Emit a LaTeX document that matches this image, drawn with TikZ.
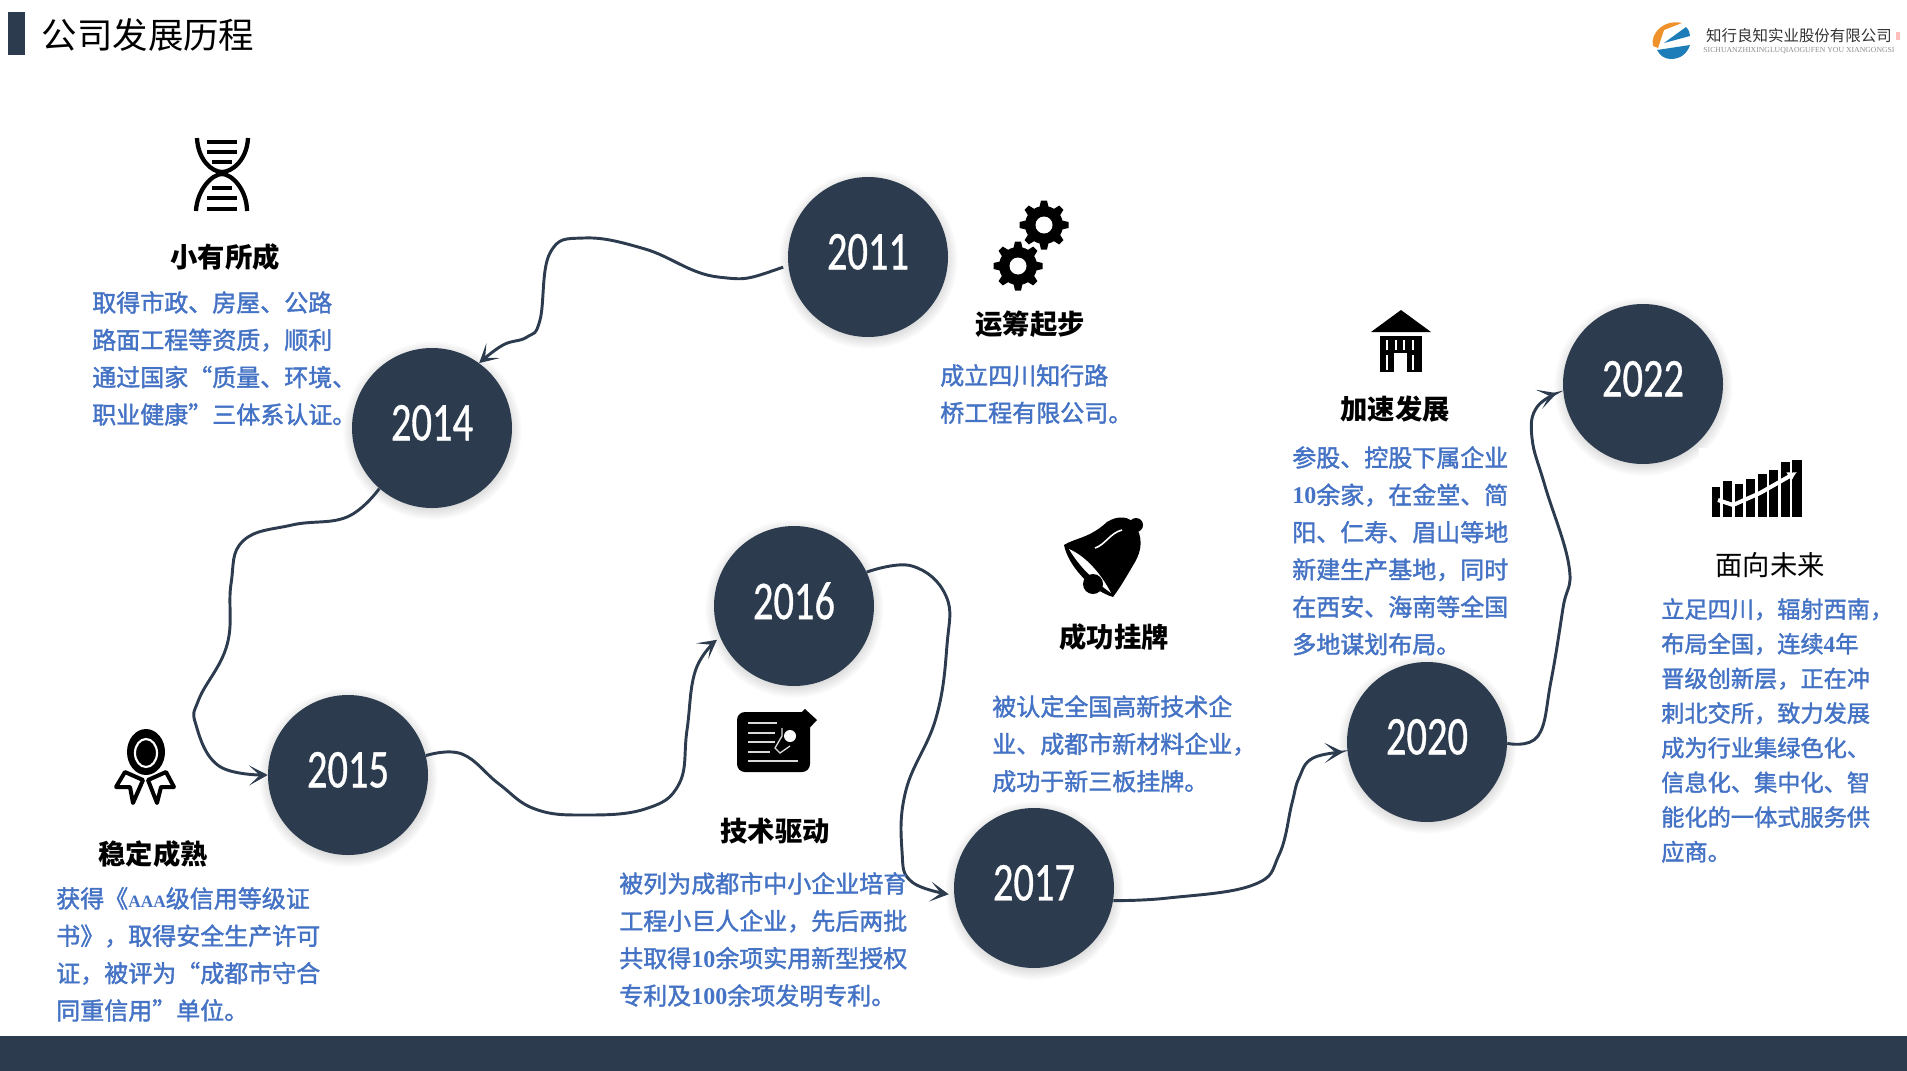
\documentclass[tikz,border=0pt]{standalone}
\usepackage{fontspec}
\usetikzlibrary{arrows.meta,shadows,fadings}
\setmainfont{Noto Sans CJK SC}
\newfontfamily\yearfont[FakeStretch=0.74,FakeBold=0.6]{Carlito}
\newfontfamily\latinlogo{Liberation Serif}
\newfontfamily\bodyfont[FakeBold=1.6]{Noto Sans CJK SC}
\definecolor{slatebar}{HTML}{2C3C4E}
\definecolor{bodyblue}{HTML}{4472C4}
\definecolor{logoorange}{HTML}{F0922B}
\definecolor{logoblue}{HTML}{1C7DB8}
\newcommand{\lat}[1]{{\latinlogo\bfseries #1}}

\begin{document}
\begin{tikzpicture}[
  x=0.75pt, y=-0.75pt,
  yearnode/.style={circle, fill=slatebar, text=white, inner sep=0pt, minimum size=120pt,
                   text depth=8pt, font=\yearfont\fontsize{41}{41}\selectfont,
                   circular drop shadow={shadow xshift=0pt, shadow yshift=-1.5pt, shadow scale=1.12, opacity=0.3}},
  headnode/.style={font=\bfseries\fontsize{20.5}{24}\selectfont, text=black, inner sep=0pt},
  descnode/.style={font=\bodyfont\fontsize{18}{28}\selectfont, text=bodyblue, align=left,
                   anchor=north west, inner sep=0pt},
  link/.style={draw=slatebar, line width=2.2pt, -{Stealth[length=14pt,width=15pt,inset=8pt]}},
  gearpic/.pic={
    \fill[black] (0,0) circle (19);
    \foreach \a in {0,45,...,315}
      \fill[black, rotate=\a] (-4.5,-18) -- (-3,-24.5) -- (3,-24.5) -- (4.5,-18) -- cycle;
    \fill[white] (0,0) circle (8.5);
  },
]
\useasboundingbox (0,0) rectangle (1907,1071);

% ---- title and footer ----
\fill[slatebar] (8,12) rectangle (25,55);
\node[font=\fontsize{26.6}{30}\selectfont, inner sep=0pt] (title) at (148,35) {公司发展历程};
\fill[slatebar] (0,1036) rectangle (1907,1071);

% ---- logo ----
\fill[logoorange] (1653,46) .. controls (1650,33) and (1664,19) .. (1682,23) -- (1664,30) -- (1658,48) -- cycle;
\fill[logoblue] (1664,43) -- (1686,27) .. controls (1689,30) and (1690,33) .. (1690,36) -- cycle;
\fill[logoblue] (1657,50) -- (1690,45) .. controls (1687,54) and (1680,59) .. (1671,59) .. controls (1665,59) and (1660,56) .. (1657,50) -- cycle;
\node[font=\fontsize{11.6}{12}\selectfont, text=black!80, inner sep=0pt] (logoname) at (1799,36) {知行良知实业股份有限公司};
\node[font=\latinlogo\fontsize{5.8}{6}\selectfont, text=black!45, inner sep=0pt] (logosub) at (1799,51) {SICHUANZHIXINGLUQIAOGUFEN YOU XIANGONGSI};
\fill[red!25] (1896,32) rectangle (1900,40);

% ---- year circles ----
\node[yearnode] (y2011) at (868,257) {2011};
\node[yearnode] (y2014) at (432,428) {2014};
\node[yearnode] (y2015) at (348,775) {2015};
\node[yearnode] (y2016) at (794,606) {2016};
\node[yearnode] (y2017) at (1034,888) {2017};
\node[yearnode] (y2020) at (1427,742) {2020};
\node[yearnode] (y2022) at (1643,384) {2022};

% ---- connectors ----
\draw[link, shorten <=4pt] plot[smooth, tension=0.7] coordinates {(y2011.186) (718,277) (645,249) (584,238) (550,253) (540,320) (527,337) (503,345) (y2014.54)};
\draw[link] plot[smooth, tension=0.7] coordinates {(y2014.229) (347,517) (292,525) (243,541) (231,584) (227,645) (199,699) (196,725) (219,766) (y2015.west)};
\draw[link, shorten >=3pt] plot[smooth, tension=0.7] coordinates {(y2015.14) (462,754) (499,784) (535,809) (584,815) (645,809) (679,784) (687,730) (696,669) (y2016.203)};
\draw[link, shorten >=4pt] plot[smooth, tension=0.7] coordinates {(y2016.25) (912,566) (946,596) (947,645) (936,718) (906,790) (902,851) (912,882) (y2017.185)};
\draw[link, shorten >=3pt] plot[smooth, tension=0.7] coordinates {(y2017.-9) (1168,898) (1253,885) (1279,855) (1292,803) (1299,778) (1313,758) (y2020.187)};
\draw[link, shorten >=5pt] plot[smooth, tension=0.7] coordinates {(y2020.-1) (1538,736) (1551,681) (1563,608) (1569,566) (1545,486) (1532,438) (1537,407) (y2022.185)};

% ---- headings ----
\node[headnode] (hachieve) at (225,257) {小有所成};
\node[headnode] (hplan) at (1030,324) {运筹起步};
\node[headnode] (hstable) at (153,854) {稳定成熟};
\node[headnode] (htech) at (775,831) {技术驱动};
\node[headnode] (hlist) at (1114,637) {成功挂牌};
\node[headnode] (hspeed) at (1395,409) {加速发展};
\node[headnode, font=\fontsize{20.5}{24}\selectfont] (hfuture) at (1770,565) {面向未来};

% ---- descriptions ----
\node[descnode] (dachieve) at (92,291) {取得市政、房屋、公路\\路面工程等资质，顺利\\通过国家“质量、环境、\\职业健康”三体系认证。};
\node[descnode] (dplan) at (940,364) {成立四川知行路\\桥工程有限公司。};
\node[descnode] (dstable) at (56,887) {获得《{\latinlogo\bfseries\fontsize{13}{28}\selectfont AAA}级信用等级证\\书》，取得安全生产许可\\证，被评为“成都市守合\\同重信用”单位。};
\node[descnode] (dtech) at (619,872) {被列为成都市中小企业培育\\工程小巨人企业，先后两批\\共取得\lat{10}余项实用新型授权\\专利及\lat{100}余项发明专利。};
\node[descnode] (dlist) at (992,695) {被认定全国高新技术企\\业、成都市新材料企业，\\成功于新三板挂牌。};
\node[descnode] (dspeed) at (1292,446) {参股、控股下属企业\\\lat{10}余家，在金堂、简\\阳、仁寿、眉山等地\\新建生产基地，同时\\在西安、海南等全国\\多地谋划布局。};
\node[descnode, font=\bodyfont\fontsize{17.4}{26}\selectfont] (dfuture) at (1661,598) {立足四川，辐射西南，\\布局全国，连续\lat{4}年\\晋级创新层，正在冲\\刺北交所，致力发展\\成为行业集绿色化、\\信息化、集中化、智\\能化的一体式服务供\\应商。};

% ---- dna icon ----
\draw[black, line width=3.2pt] (197,138) .. controls (198,160) and (212,172) .. (222,172) .. controls (232,172) and (247,160) .. (248,138);
\draw[black, line width=3.2pt] (196,211) .. controls (197,190) and (212,174) .. (222,174) .. controls (232,174) and (247,190) .. (247,211);
\foreach \ya/\xa/\xb in {142/207/237, 152/207/237, 162/212/232, 188/212/232, 198/207/237, 209/207/237}
  \draw[black, line width=3pt] (\xa,\ya) -- (\xb,\ya);

% ---- gears ----
\pic at (1044,225) {gearpic};
\pic at (1018,266) {gearpic};

% ---- bell ----
\fill[black] (1136,525) circle (7);
\fill[black] (1064,545) .. controls (1075,538) and (1090,538) .. (1107,522) .. controls (1118,515) and (1130,516) .. (1135,525) .. controls (1143,537) and (1142,550) .. (1135,562) .. controls (1129,572) and (1122,585) .. (1113,597) .. controls (1090,590) and (1068,565) .. cycle;
\fill[white] (1069,549) .. controls (1085,556) and (1100,572) .. (1111,593) .. controls (1097,583) and (1080,568) .. cycle;
\fill[black] (1093,584) circle (10);
\draw[white, line width=1.2pt] (1095,548) .. controls (1105,545) and (1110,533) .. (1122,530);

% ---- news icon ----
\fill[black, rounded corners=6pt] (737,712) rectangle (810,772);
\foreach \ya/\xb in {723/777, 733/775, 742/775, 752/770, 761/798}
  \draw[white!85!black, line width=1.5pt] (748,\ya) -- (\xb,\ya);
\fill[black] (782,730) -- (805,709) -- (817,720) -- (800,738) -- (782,752) -- (773,750) -- cycle;
\draw[white!85!black, line width=1pt] (782,728) -- (782,736) -- (775,748) -- (780,753) -- (790,746);
\fill[white] (790,736) circle (6);

% ---- medal ----
\draw[black, line width=3pt, fill=white, line join=round] (125,772) -- (116,787) -- (130,787) -- (133,803) -- (143,780) -- cycle;
\draw[black, line width=3pt, fill=white, line join=round] (166,772) -- (174,787) -- (161,787) -- (157,803) -- (148,780) -- cycle;
\fill[black] (146,752) ellipse[x radius=19, y radius=23];
\draw[white, line width=1.6pt] (146,753) ellipse[x radius=11, y radius=14];

% ---- building ----
\fill[black] (1371,332) -- (1401,310) -- (1431,332) -- cycle;
\fill[black] (1380,336) rectangle (1422,372);
\foreach \xa in {1387,1396,1404,1413}
  \draw[white, line width=1.2pt] (\xa,340) -- (\xa,350);
\foreach \xa in {1387,1413}
  \draw[white, line width=1.2pt] (\xa,355) -- (\xa,370);
\fill[white] (1394,353) rectangle (1407,372);

% ---- chart ----
\fill[white] (1699,448) rectangle (1810,525);
\foreach \xa/\xb/\ya in {1712/1720/487, 1723/1732/481, 1735/1743/484, 1746/1755/479, 1758/1767/474, 1769/1778/470, 1781/1790/462, 1792/1802/460}
  \fill[black] (\xa,\ya) rectangle (\xb,517);
\draw[white, line width=3pt, -{Latex[length=7pt,width=8pt]}] (1718,500) -- (1733,505) -- (1760,493) -- (1797,472);

\end{tikzpicture}
\end{document}
